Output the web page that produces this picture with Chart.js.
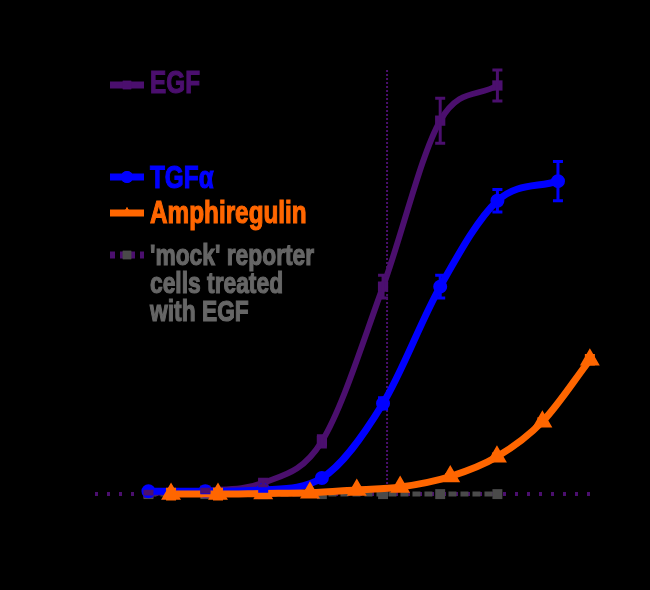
<!DOCTYPE html>
<html>
<head>
<meta charset="utf-8">
<script src="https://cdn.jsdelivr.net/npm/chart.js@4.4.1/dist/chart.umd.min.js"></script>
<style>
  html, body { margin: 0; padding: 0; background: #000; }
  #wrap { width: 650px; height: 590px; }
</style>
</head>
<body>
<div id="wrap"><canvas id="myChart" width="650" height="590"></canvas></div>
<script>
'use strict';

// ligand concentrations (ng/ml)
const egfDose = [0.0034, 0.0125, 0.047, 0.18, 0.73, 2.7, 10];
const tgfDose = [0.0034, 0.0125, 0.047, 0.18, 0.73, 2.7, 10, 40];
const arDose = [0.0057, 0.0167, 0.047, 0.137, 0.40, 1.08, 3.4, 9.9, 28, 83];
const mockDose = [0.0034, 0.0125, 0.047, 0.18, 0.73, 2.7, 10];

// fold induction, mean and error
const egfSignal = [-0.05, 0.1, 0.65, 3.6, 14.6, 26.4, 28.9];
const egfErr = [0.1, 0.1, 0.2, 0.4, 0.8, 1.6, 1.1];
const tgfSignal = [0.05, 0.05, 0.15, 1.0, 6.3, 14.6, 20.7, 22.1];
const tgfErr = [0.1, 0.1, 0.1, 0.2, 0.4, 0.8, 0.8, 1.4];
const arSignal = [-0.15, -0.15, -0.1, -0.05, 0.15, 0.35, 1.1, 2.5, 5.0, 9.4];
const arErr = [0.35, 0.35, 0.1, 0.1, 0.1, 0.1, 0.15, 0.2, 0.2, 0.3];
const mockSignal = [-0.15, -0.15, -0.15, -0.15, -0.15, -0.15, -0.15];

// EC50 of EGF and the dotted baseline
const egfEC50 = 0.8;
const ec50Span = [0, 30];
const baselineDose = [0.001, 100];
const baselineSignal = [-0.15, -0.15];

const xTicks = [0.001, 0.01, 0.1, 1, 10, 100];
const yTicks = [0, 5, 10, 15, 20, 25, 30];

const seriesNames = ['EGF', 'TGFα', 'Amphiregulin', "'mock' reporter cells treated with EGF"];
const ec50Note = ['EC50 ≈ 0.8', 'ng/ml'];

const colors = {
    purple: '#4b0f6e',
    blue: '#0000ff',
    orange: '#ff6600',
    gray: '#4a4a4a',
    grayText: '#666666',
    black: '#000000',
};

const pts = (xs, ys) => xs.map((x, i) => ({ x: x, y: ys[i] }));

// error bars with caps, drawn over the datasets
const errorBars = {
    id: 'errorBars',
    afterDatasetsDraw(chart) {
        const ctx = chart.ctx;
        const yScale = chart.scales.y;
        chart.data.datasets.forEach((ds, i) => {
            if (!ds.errors) return;
            const meta = chart.getDatasetMeta(i);
            ctx.save();
            ctx.strokeStyle = ds.borderColor;
            ctx.lineWidth = 3;
            meta.data.forEach((pt, j) => {
                const v = ds.data[j].y, e = ds.errors[j];
                const top = yScale.getPixelForValue(v + e);
                const bot = yScale.getPixelForValue(v - e);
                ctx.beginPath();
                ctx.moveTo(pt.x, top); ctx.lineTo(pt.x, bot);
                ctx.moveTo(pt.x - 5, top); ctx.lineTo(pt.x + 5, top);
                ctx.moveTo(pt.x - 5, bot); ctx.lineTo(pt.x + 5, bot);
                ctx.stroke();
            });
            ctx.restore();
        });
    }
};

// legend sits inside the plot, condensed bold text like the original
function drawText(ctx, text, x, y, color, size) {
    ctx.save();
    ctx.fillStyle = color;
    ctx.strokeStyle = color;
    ctx.lineWidth = 1.2;
    ctx.font = 'bold ' + size + 'px "Liberation Sans", Arial, sans-serif';
    ctx.textBaseline = 'alphabetic';
    ctx.translate(x, y);
    ctx.scale(0.76, 1);
    ctx.fillText(text, 0, 0);
    ctx.strokeText(text, 0, 0);
    ctx.restore();
}

function drawMarker(ctx, style, x, y, color, lineColor, dash) {
    ctx.save();
    ctx.strokeStyle = lineColor;
    ctx.lineWidth = 7;
    if (dash) ctx.setLineDash(dash);
    ctx.beginPath();
    ctx.moveTo(x - 17, y);
    ctx.lineTo(x + 17, y);
    ctx.stroke();
    ctx.setLineDash([]);
    ctx.fillStyle = color;
    Chart.helpers.drawPoint(ctx, { pointStyle: style, radius: 6, borderWidth: 0 }, x, y);
    ctx.fill();
    ctx.restore();
}

const insideLegend = {
    id: 'insideLegend',
    afterDraw(chart) {
        const ctx = chart.ctx;
        const left = chart.chartArea.left;
        const mx = left + 32, tx = left + 55;

        drawMarker(ctx, 'rect', mx, 85, colors.purple, colors.purple);
        drawText(ctx, seriesNames[0], tx, 93, colors.purple, 32);
        drawText(ctx, ec50Note[0], tx, 116, colors.black, 22);
        drawText(ctx, ec50Note[1], tx, 143, colors.black, 22);

        drawMarker(ctx, 'circle', mx, 177, colors.blue, colors.blue);
        drawText(ctx, seriesNames[1], tx, 188, colors.blue, 32);

        drawMarker(ctx, 'triangle', mx, 213, colors.orange, colors.orange);
        drawText(ctx, seriesNames[2], tx, 223, colors.orange, 32);

        drawMarker(ctx, 'rect', mx, 255, colors.gray, colors.purple, [5, 5]);
        const mockLines = ["'mock' reporter", 'cells treated', 'with EGF'];
        mockLines.forEach((s, i) => drawText(ctx, s, tx, 265 + i * 28, colors.grayText, 30));
    }
};

let ctx = document.getElementById('myChart').getContext('2d');
let myChart = new Chart(ctx, {
    type: 'line',
    data: {
        datasets: [
            {
                label: seriesNames[2],
                data: pts(arDose, arSignal),
                errors: arErr,
                borderColor: colors.orange,
                backgroundColor: colors.orange,
                borderWidth: 7,
                pointStyle: 'triangle',
                pointRadius: 4.5,
                cubicInterpolationMode: 'monotone',
                clip: false,
                order: 1,
            }, {
                label: seriesNames[1],
                data: pts(tgfDose, tgfSignal),
                errors: tgfErr,
                borderColor: colors.blue,
                backgroundColor: colors.blue,
                borderWidth: 7,
                pointStyle: 'circle',
                pointRadius: 3.5,
                cubicInterpolationMode: 'monotone',
                clip: false,
                order: 2,
            }, {
                label: seriesNames[0],
                data: pts(egfDose, egfSignal),
                errors: egfErr,
                borderColor: colors.purple,
                backgroundColor: colors.purple,
                borderWidth: 6,
                pointStyle: 'rect',
                pointRadius: 3,
                cubicInterpolationMode: 'monotone',
                clip: false,
                order: 3,
            }, {
                label: 'EC50',
                data: pts([egfEC50, egfEC50], ec50Span),
                borderColor: colors.purple,
                borderWidth: 2,
                borderDash: [2, 2],
                pointRadius: 0,
                clip: false,
                order: 4,
            }, {
                label: seriesNames[3],
                data: pts(mockDose, mockSignal),
                borderColor: colors.gray,
                backgroundColor: colors.gray,
                borderWidth: 5,
                borderDash: [8, 4],
                pointStyle: 'rect',
                pointRadius: 3.5,
                clip: false,
                order: 5,
            }, {
                label: 'baseline',
                data: pts(baselineDose, baselineSignal),
                borderColor: colors.purple,
                borderWidth: 4,
                borderDash: [3, 9],
                pointRadius: 0,
                clip: false,
                order: 6,
            }
        ]
    },
    options: {
        responsive: false,
        animation: false,
        layout: { padding: { left: 10, right: 52, top: 0, bottom: 0 } },
        plugins: {
            legend: { display: false },
            tooltip: { enabled: false },
            title: {
                display: true,
                text: 'Dose Response to EGFR Ligands',
                color: colors.black,
                align: 'start',
                font: { family: '"Liberation Sans", Arial, sans-serif', size: 20, weight: 'bold' },
                padding: { top: 24, bottom: 22 },
            },
        },
        scales: {
            x: {
                type: 'logarithmic',
                min: 0.001,
                max: 100,
                afterBuildTicks: (scale) => { scale.ticks = xTicks.map(v => ({ value: v })); },
                afterFit: (scale) => { scale.height = 98; },
                grid: { display: false, drawTicks: true, tickColor: colors.black },
                border: { color: colors.black, width: 2 },
                ticks: {
                    color: colors.black,
                    font: { family: '"Liberation Sans", Arial, sans-serif', size: 16, weight: 'bold' },
                    callback: (v) => String(v),
                },
                title: {
                    display: true,
                    text: '[Ligand] (ng/ml)',
                    color: colors.black,
                    font: { family: '"Liberation Sans", Arial, sans-serif', size: 18, weight: 'bold' },
                },
            },
            y: {
                min: 0,
                max: 30,
                afterBuildTicks: (scale) => { scale.ticks = yTicks.map(v => ({ value: v })); },
                afterFit: (scale) => { scale.width = 85; },
                grid: { display: false, drawTicks: true, tickColor: colors.black },
                border: { color: colors.black, width: 2 },
                ticks: {
                    color: colors.black,
                    font: { family: '"Liberation Sans", Arial, sans-serif', size: 16, weight: 'bold' },
                },
                title: {
                    display: true,
                    text: 'Fold Induction',
                    color: colors.black,
                    font: { family: '"Liberation Sans", Arial, sans-serif', size: 18, weight: 'bold' },
                },
            }
        }
    },
    plugins: [errorBars, insideLegend],
});
</script>
</body>
</html>
